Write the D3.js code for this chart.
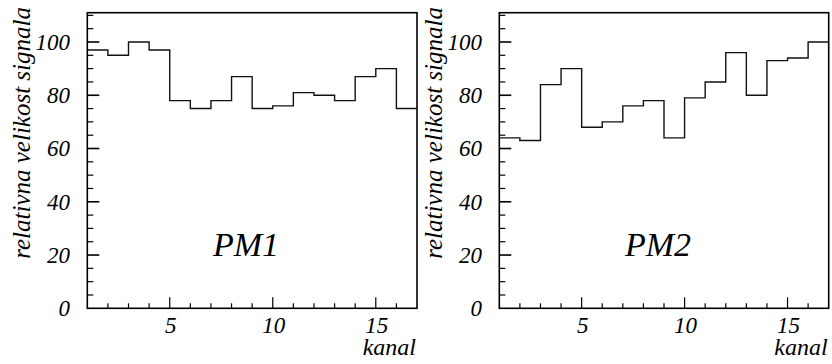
<!DOCTYPE html>
<html><head><meta charset="utf-8">
<script src="https://cdn.jsdelivr.net/npm/d3@7"></script>
<style>
html,body{margin:0;padding:0;background:#fff;}
svg text, text{font-family:"Liberation Serif" !important;font-style:italic !important;}
</style></head>
<body>
<script>
// Data
const channels = d3.range(1, 17); // bins [c, c+1]
const pm1 = [97, 95, 100, 97, 78, 75, 78, 87, 75, 76, 81, 80, 78, 87, 90, 75];
const pm2 = [64, 63, 84, 90, 68, 70, 76, 78, 64, 79, 85, 96, 80, 93, 94, 100];
const panelLabels = ["PM1", "PM2"];
const yTickLabels = [0, 20, 40, 60, 80, 100];
const xTickLabels = [5, 10, 15];
const xLabel = "kanal";
const yLabel = "relativna velikost signala";

const W = 832, H = 364;
const svg = d3.select("body").append("svg").attr("width", W).attr("height", H);

const panels = [
  {data: pm1, name: panelLabels[0], left: 87.3, right: 417},
  {data: pm2, name: panelLabels[1], left: 499.3, right: 828.7}
];
const plotTop = 12.7, plotBottom = 308.3;

function txt(size) {
  return svg.append("text")
    .attr("font-size", size)
    .attr("font-family", "Liberation Serif")
    .attr("font-style", "italic")
    .style("font-family", "Liberation Serif", "important")
    .style("font-style", "italic", "important")
    .attr("fill", "#000");
}

panels.forEach(p => {
  const x = d3.scaleLinear().domain([1, 17]).range([p.left, p.right]);
  const y = d3.scaleLinear().domain([0, 111]).range([plotBottom, plotTop]);

  // histogram step path
  const pts = [];
  p.data.forEach((v, i) => {
    pts.push([x(channels[i]), y(v)]);
    pts.push([x(channels[i] + 1), y(v)]);
  });
  svg.append("path")
    .attr("d", d3.line()(pts))
    .attr("fill", "none").attr("stroke", "#111").attr("stroke-width", 1.4);

  // frame
  svg.append("rect")
    .attr("x", p.left).attr("y", plotTop)
    .attr("width", p.right - p.left).attr("height", plotBottom - plotTop)
    .attr("fill", "none").attr("stroke", "#000").attr("stroke-width", 1.6);

  // y ticks (inside)
  d3.range(5, 111, 5).forEach(v => {
    const major = v % 20 === 0;
    svg.append("line")
      .attr("x1", p.left).attr("x2", p.left + (major ? 12 : 6))
      .attr("y1", y(v)).attr("y2", y(v))
      .attr("stroke", "#000").attr("stroke-width", major ? 1.6 : 1.2);
  });
  // x ticks (inside)
  d3.range(2, 17, 1).forEach(v => {
    const major = v % 5 === 0;
    svg.append("line")
      .attr("x1", x(v)).attr("x2", x(v))
      .attr("y1", plotBottom).attr("y2", plotBottom - (major ? 11 : 5))
      .attr("stroke", "#000").attr("stroke-width", 1.2);
  });

  // y tick labels
  yTickLabels.forEach(v => {
    txt(23).attr("x", p.left - 17.3).attr("y", y(v) + 7.8)
      .attr("text-anchor", "end")
      .text(v);
  });
  // x tick labels
  xTickLabels.forEach(v => {
    txt(23).attr("x", x(v) + 1).attr("y", 333)
      .attr("text-anchor", "middle")
      .text(v);
  });
  // x axis label
  txt(24).attr("x", p.right - 1).attr("y", 355)
    .attr("text-anchor", "end")
    .text(xLabel);
  // y axis label
  txt(25).attr("transform", `translate(${p.left - 57},7) rotate(-90)`)
    .attr("text-anchor", "end")
    .text(yLabel);
  // panel label
  txt(34).attr("x", x(7.1)).attr("y", 256)
    .text(p.name);
});
</script>
</body></html>
